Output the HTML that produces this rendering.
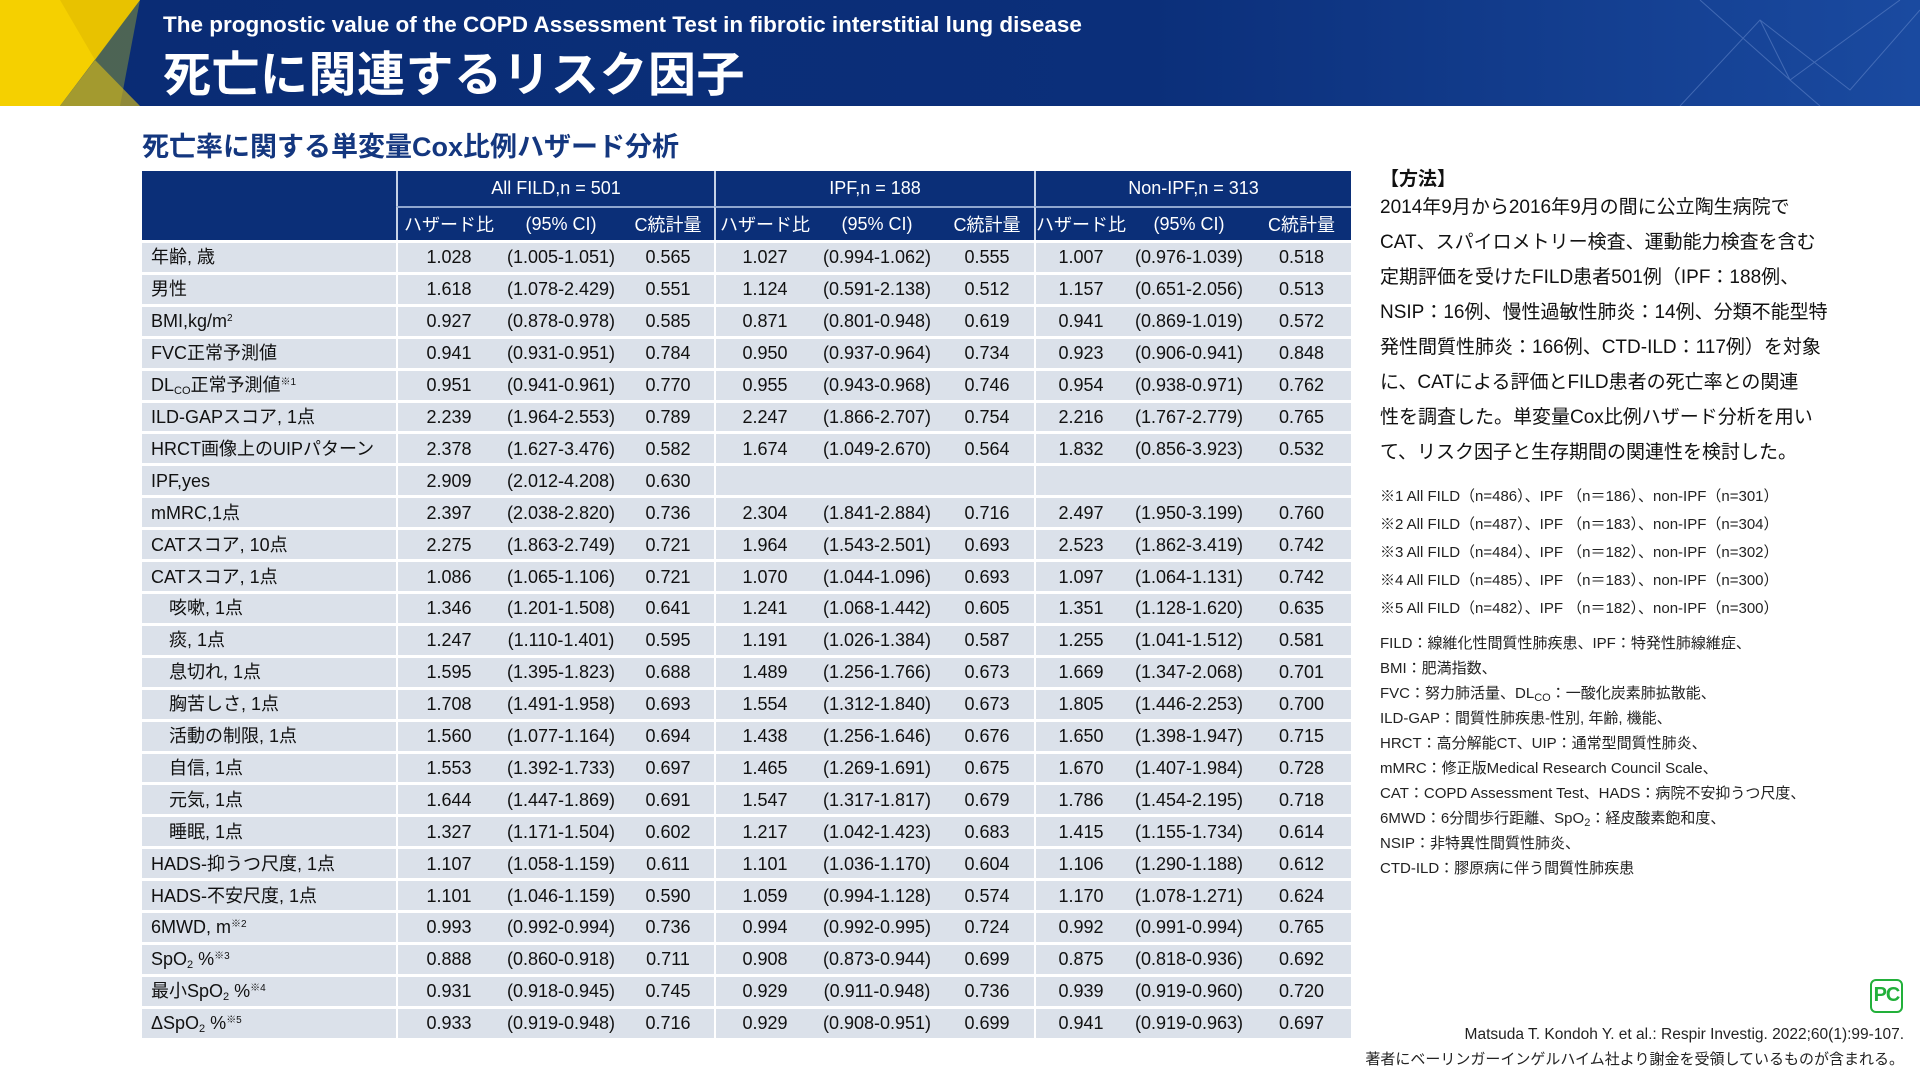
<!DOCTYPE html>
<html><head><meta charset="utf-8"><style>
*{margin:0;padding:0;box-sizing:border-box}
body{width:1920px;height:1080px;position:relative;background:#fff;font-family:"Liberation Sans","Noto Sans CJK JP",sans-serif;overflow:hidden;color:#111}
.hdr{position:absolute;left:0;top:0;width:1920px;height:106px;background:linear-gradient(90deg,#0a2c74 0%,#0b2f7a 60%,#1a4aa0 100%);overflow:hidden}
.t1{position:absolute;left:163px;top:12px;color:#fff;font-weight:bold;font-size:22.5px;white-space:nowrap}
.t2{position:absolute;left:163px;top:35px;color:#fff;font-weight:bold;font-size:48px;white-space:nowrap;letter-spacing:0.5px}
.sub{position:absolute;left:142px;top:125px;color:#14377f;font-weight:bold;font-size:27px;white-space:nowrap}
table{position:absolute;left:142px;top:171px;border-collapse:separate;border-spacing:0;table-layout:fixed;width:1209px}
td,th{font-size:18px;white-space:nowrap;text-align:center;padding:0}
th{background:#0b2f78;color:#fff;font-weight:normal}
tr.h1 th{height:35px}
tr.h2 th{height:34px;border-top:2px solid #8fa6cf}
td{background:#dbe1ea;height:31.92px;border-top:3px solid #fff;line-height:28px}
td.l{text-align:left;padding-left:9px}
td.l2{text-align:left;padding-left:27px}
.g{border-left:2px solid #fff}
th.g{border-left:2px solid #c6d2e6}
.rt{position:absolute;left:1380px;white-space:nowrap;color:#111}
.body{font-size:19px;letter-spacing:0}
.fn{font-size:15px;color:#222}
.ab{font-size:15px;color:#222}
sub{font-size:11px;vertical-align:-3px;line-height:0}
sup{font-size:10px;vertical-align:6px;line-height:0}
</style></head><body>
<div class="hdr">
<svg width="1920" height="106" style="position:absolute;left:0;top:0">
<polygon points="0,0 140,0 60,106 0,106" fill="#f5d000"/>
<polygon points="60,0 140,0 95,60" fill="#e8c200"/>
<polygon points="60,106 140,0 120,106" fill="#7a8a40" opacity="0.6"/>
<polygon points="95,60 140,106 60,106" fill="#c7b020" opacity="0.7"/>
<g stroke="#6d8fd0" stroke-width="1" opacity="0.5" fill="none">
<path d="M1680,106 L1760,20 L1850,90 L1920,10"/><path d="M1700,0 L1790,80 L1900,0"/><path d="M1760,20 L1790,80 L1820,106"/>
</g>
</svg>
<div class="t1">The prognostic value of the COPD Assessment Test in fibrotic interstitial lung disease</div>
<div class="t2">死亡に関連するリスク因子</div>
</div>
<div class="sub">死亡率に関する単変量Cox比例ハザード分析</div>
<table>
<colgroup><col style="width:254px"><col style="width:104px"><col style="width:122px"><col style="width:92px"><col style="width:100px"><col style="width:126px"><col style="width:94px"><col style="width:92px"><col style="width:126px"><col style="width:99px"></colgroup>
<tr class="h1"><th rowspan="2"></th><th colspan="3" class="g">All FILD,n = 501</th><th colspan="3" class="g">IPF,n = 188</th><th colspan="3" class="g">Non-IPF,n = 313</th></tr>
<tr class="h2"><th class="g">ハザード比</th><th>(95% CI)</th><th>C統計量</th><th class="g">ハザード比</th><th>(95% CI)</th><th>C統計量</th><th class="g">ハザード比</th><th>(95% CI)</th><th>C統計量</th></tr>
<tr><td class="l">年齢, 歳</td><td class="g">1.028</td><td>(1.005-1.051)</td><td>0.565</td><td class="g">1.027</td><td>(0.994-1.062)</td><td>0.555</td><td class="g">1.007</td><td>(0.976-1.039)</td><td>0.518</td></tr>
<tr><td class="l">男性</td><td class="g">1.618</td><td>(1.078-2.429)</td><td>0.551</td><td class="g">1.124</td><td>(0.591-2.138)</td><td>0.512</td><td class="g">1.157</td><td>(0.651-2.056)</td><td>0.513</td></tr>
<tr><td class="l">BMI,kg/m<sup>2</sup></td><td class="g">0.927</td><td>(0.878-0.978)</td><td>0.585</td><td class="g">0.871</td><td>(0.801-0.948)</td><td>0.619</td><td class="g">0.941</td><td>(0.869-1.019)</td><td>0.572</td></tr>
<tr><td class="l">FVC正常予測値</td><td class="g">0.941</td><td>(0.931-0.951)</td><td>0.784</td><td class="g">0.950</td><td>(0.937-0.964)</td><td>0.734</td><td class="g">0.923</td><td>(0.906-0.941)</td><td>0.848</td></tr>
<tr><td class="l">DL<sub>CO</sub>正常予測値<sup>※1</sup></td><td class="g">0.951</td><td>(0.941-0.961)</td><td>0.770</td><td class="g">0.955</td><td>(0.943-0.968)</td><td>0.746</td><td class="g">0.954</td><td>(0.938-0.971)</td><td>0.762</td></tr>
<tr><td class="l">ILD-GAPスコア, 1点</td><td class="g">2.239</td><td>(1.964-2.553)</td><td>0.789</td><td class="g">2.247</td><td>(1.866-2.707)</td><td>0.754</td><td class="g">2.216</td><td>(1.767-2.779)</td><td>0.765</td></tr>
<tr><td class="l">HRCT画像上のUIPパターン</td><td class="g">2.378</td><td>(1.627-3.476)</td><td>0.582</td><td class="g">1.674</td><td>(1.049-2.670)</td><td>0.564</td><td class="g">1.832</td><td>(0.856-3.923)</td><td>0.532</td></tr>
<tr><td class="l">IPF,yes</td><td class="g">2.909</td><td>(2.012-4.208)</td><td>0.630</td><td class="g"></td><td></td><td></td><td class="g"></td><td></td><td></td></tr>
<tr><td class="l">mMRC,1点</td><td class="g">2.397</td><td>(2.038-2.820)</td><td>0.736</td><td class="g">2.304</td><td>(1.841-2.884)</td><td>0.716</td><td class="g">2.497</td><td>(1.950-3.199)</td><td>0.760</td></tr>
<tr><td class="l">CATスコア, 10点</td><td class="g">2.275</td><td>(1.863-2.749)</td><td>0.721</td><td class="g">1.964</td><td>(1.543-2.501)</td><td>0.693</td><td class="g">2.523</td><td>(1.862-3.419)</td><td>0.742</td></tr>
<tr><td class="l">CATスコア, 1点</td><td class="g">1.086</td><td>(1.065-1.106)</td><td>0.721</td><td class="g">1.070</td><td>(1.044-1.096)</td><td>0.693</td><td class="g">1.097</td><td>(1.064-1.131)</td><td>0.742</td></tr>
<tr><td class="l2">咳嗽, 1点</td><td class="g">1.346</td><td>(1.201-1.508)</td><td>0.641</td><td class="g">1.241</td><td>(1.068-1.442)</td><td>0.605</td><td class="g">1.351</td><td>(1.128-1.620)</td><td>0.635</td></tr>
<tr><td class="l2">痰, 1点</td><td class="g">1.247</td><td>(1.110-1.401)</td><td>0.595</td><td class="g">1.191</td><td>(1.026-1.384)</td><td>0.587</td><td class="g">1.255</td><td>(1.041-1.512)</td><td>0.581</td></tr>
<tr><td class="l2">息切れ, 1点</td><td class="g">1.595</td><td>(1.395-1.823)</td><td>0.688</td><td class="g">1.489</td><td>(1.256-1.766)</td><td>0.673</td><td class="g">1.669</td><td>(1.347-2.068)</td><td>0.701</td></tr>
<tr><td class="l2">胸苦しさ, 1点</td><td class="g">1.708</td><td>(1.491-1.958)</td><td>0.693</td><td class="g">1.554</td><td>(1.312-1.840)</td><td>0.673</td><td class="g">1.805</td><td>(1.446-2.253)</td><td>0.700</td></tr>
<tr><td class="l2">活動の制限, 1点</td><td class="g">1.560</td><td>(1.077-1.164)</td><td>0.694</td><td class="g">1.438</td><td>(1.256-1.646)</td><td>0.676</td><td class="g">1.650</td><td>(1.398-1.947)</td><td>0.715</td></tr>
<tr><td class="l2">自信, 1点</td><td class="g">1.553</td><td>(1.392-1.733)</td><td>0.697</td><td class="g">1.465</td><td>(1.269-1.691)</td><td>0.675</td><td class="g">1.670</td><td>(1.407-1.984)</td><td>0.728</td></tr>
<tr><td class="l2">元気, 1点</td><td class="g">1.644</td><td>(1.447-1.869)</td><td>0.691</td><td class="g">1.547</td><td>(1.317-1.817)</td><td>0.679</td><td class="g">1.786</td><td>(1.454-2.195)</td><td>0.718</td></tr>
<tr><td class="l2">睡眠, 1点</td><td class="g">1.327</td><td>(1.171-1.504)</td><td>0.602</td><td class="g">1.217</td><td>(1.042-1.423)</td><td>0.683</td><td class="g">1.415</td><td>(1.155-1.734)</td><td>0.614</td></tr>
<tr><td class="l">HADS-抑うつ尺度, 1点</td><td class="g">1.107</td><td>(1.058-1.159)</td><td>0.611</td><td class="g">1.101</td><td>(1.036-1.170)</td><td>0.604</td><td class="g">1.106</td><td>(1.290-1.188)</td><td>0.612</td></tr>
<tr><td class="l">HADS-不安尺度, 1点</td><td class="g">1.101</td><td>(1.046-1.159)</td><td>0.590</td><td class="g">1.059</td><td>(0.994-1.128)</td><td>0.574</td><td class="g">1.170</td><td>(1.078-1.271)</td><td>0.624</td></tr>
<tr><td class="l">6MWD, m<sup>※2</sup></td><td class="g">0.993</td><td>(0.992-0.994)</td><td>0.736</td><td class="g">0.994</td><td>(0.992-0.995)</td><td>0.724</td><td class="g">0.992</td><td>(0.991-0.994)</td><td>0.765</td></tr>
<tr><td class="l">SpO<sub>2</sub> %<sup>※3</sup></td><td class="g">0.888</td><td>(0.860-0.918)</td><td>0.711</td><td class="g">0.908</td><td>(0.873-0.944)</td><td>0.699</td><td class="g">0.875</td><td>(0.818-0.936)</td><td>0.692</td></tr>
<tr><td class="l">最小SpO<sub>2</sub> %<sup>※4</sup></td><td class="g">0.931</td><td>(0.918-0.945)</td><td>0.745</td><td class="g">0.929</td><td>(0.911-0.948)</td><td>0.736</td><td class="g">0.939</td><td>(0.919-0.960)</td><td>0.720</td></tr>
<tr><td class="l">ΔSpO<sub>2</sub> %<sup>※5</sup></td><td class="g">0.933</td><td>(0.919-0.948)</td><td>0.716</td><td class="g">0.929</td><td>(0.908-0.951)</td><td>0.699</td><td class="g">0.941</td><td>(0.919-0.963)</td><td>0.697</td></tr>
</table>

<div class="rt body" style="top:164px;font-weight:bold">【方法】</div>
<div class="rt body" style="top:192px">2014年9月から2016年9月の間に公立陶生病院で</div>
<div class="rt body" style="top:227px">CAT、スパイロメトリー検査、運動能力検査を含む</div>
<div class="rt body" style="top:262px">定期評価を受けたFILD患者501例（IPF：188例、</div>
<div class="rt body" style="top:297px">NSIP：16例、慢性過敏性肺炎：14例、分類不能型特</div>
<div class="rt body" style="top:332px">発性間質性肺炎：166例、CTD-ILD：117例）を対象</div>
<div class="rt body" style="top:367px">に、CATによる評価とFILD患者の死亡率との関連</div>
<div class="rt body" style="top:402px">性を調査した。単変量Cox比例ハザード分析を用い</div>
<div class="rt body" style="top:437px">て、リスク因子と生存期間の関連性を検討した。</div>

<div class="rt fn" style="top:485px">※1 All FILD（n=486）、IPF （n＝186）、non-IPF（n=301）</div>
<div class="rt fn" style="top:513px">※2 All FILD（n=487）、IPF （n＝183）、non-IPF（n=304）</div>
<div class="rt fn" style="top:541px">※3 All FILD（n=484）、IPF （n＝182）、non-IPF（n=302）</div>
<div class="rt fn" style="top:569px">※4 All FILD（n=485）、IPF （n＝183）、non-IPF（n=300）</div>
<div class="rt fn" style="top:597px">※5 All FILD（n=482）、IPF （n＝182）、non-IPF（n=300）</div>

<div class="rt ab" style="top:632px">FILD：線維化性間質性肺疾患、IPF：特発性肺線維症、</div>
<div class="rt ab" style="top:657px">BMI：肥満指数、</div>
<div class="rt ab" style="top:682px">FVC：努力肺活量、DL<sub>CO</sub>：一酸化炭素肺拡散能、</div>
<div class="rt ab" style="top:707px">ILD-GAP：間質性肺疾患-性別, 年齢, 機能、</div>
<div class="rt ab" style="top:732px">HRCT：高分解能CT、UIP：通常型間質性肺炎、</div>
<div class="rt ab" style="top:757px">mMRC：修正版Medical Research Council Scale、</div>
<div class="rt ab" style="top:782px">CAT：COPD Assessment Test、HADS：病院不安抑うつ尺度、</div>
<div class="rt ab" style="top:807px">6MWD：6分間歩行距離、SpO<sub>2</sub>：経皮酸素飽和度、</div>
<div class="rt ab" style="top:832px">NSIP：非特異性間質性肺炎、</div>
<div class="rt ab" style="top:857px">CTD-ILD：膠原病に伴う間質性肺疾患</div>

<div style="position:absolute;left:1870px;top:979px;width:33px;height:34px;border:2px solid #22b03a;border-radius:6px;color:#22b03a;font-weight:bold;font-size:20px;line-height:28px;text-align:center;letter-spacing:-1px">PC</div>
<div style="position:absolute;right:16px;top:1026px;font-size:15.5px;color:#222;white-space:nowrap">Matsuda T. Kondoh Y. et al.: Respir Investig. 2022;60(1):99-107.</div>
<div style="position:absolute;right:16px;top:1048px;font-size:15px;color:#222;white-space:nowrap">著者にベーリンガーインゲルハイム社より謝金を受領しているものが含まれる。</div>
</body></html>
